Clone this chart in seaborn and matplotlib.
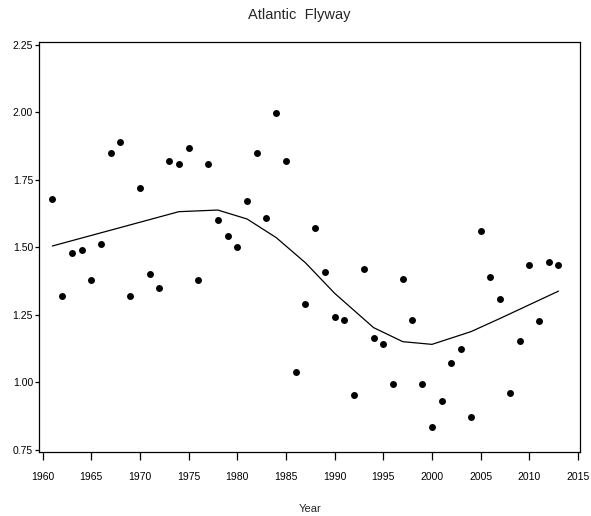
import numpy as np
import pandas as pd
import matplotlib
matplotlib.use("Agg")
import matplotlib.pyplot as plt
import seaborn as sns

# Observed data (one point per year)
years = list(range(1961, 2014))
values = [1.680, 1.320, 1.480, 1.490, 1.380, 1.511, 1.850, 1.889, 1.320, 1.720,
          1.400, 1.351, 1.820, 1.808, 1.869, 1.380, 1.808, 1.600, 1.541, 1.501,
          1.670, 1.849, 1.610, 1.997, 1.820, 1.040, 1.291, 1.570, 1.410, 1.242,
          1.231, 0.954, 1.421, 1.163, 1.142, 0.993, 1.382, 1.231, 0.993, 0.834,
          0.931, 1.073, 1.123, 0.872, 1.561, 1.390, 1.310, 0.962, 1.155, 1.433,
          1.229, 1.446, 1.433]

# Smoothed trend line vertices
trend_years = [1961, 1974, 1978, 1981, 1984, 1987, 1990, 1994, 1997, 2000, 2004, 2007, 2013]
trend_values = [1.505, 1.632, 1.638, 1.605, 1.536, 1.443, 1.330, 1.203, 1.151, 1.141, 1.188, 1.237, 1.338]

x_ticks = list(range(1960, 2020, 5))
y_ticks = [0.75, 1.00, 1.25, 1.50, 1.75, 2.00, 2.25]

sns.set_style("ticks")
plt.rcParams['font.family'] = ['Liberation Sans', 'DejaVu Sans']

df = pd.DataFrame({"Year": years, "Value": values})
tr = pd.DataFrame({"Year": trend_years, "Value": trend_values})

fig = plt.figure(figsize=(5.91, 5.16), dpi=100)
ax = fig.add_axes([0.0665, 0.1234, 0.9814 - 0.0665, 0.9192 - 0.1234])

sns.scatterplot(data=df, x="Year", y="Value", ax=ax, color="black", s=25,
                edgecolor="black", linewidth=0, zorder=3)
sns.lineplot(data=tr, x="Year", y="Value", ax=ax, color="black", linewidth=0.9,
             estimator=None, sort=False, zorder=2)

ax.set_xlim(1959.66, 2015.21)
ax.set_ylim(0.7415, 2.261)
ax.set_xticks(x_ticks)
ax.set_xticklabels([str(t) for t in x_ticks], fontsize=7.5)
ax.set_yticks(y_ticks)
ax.set_yticklabels([f"{t:.2f}" for t in y_ticks], fontsize=7.5)
ax.tick_params(axis='x', length=6, width=0.9, pad=8, colors='black')
ax.tick_params(axis='y', length=3, width=0.9, pad=1.5, colors='black')
for sp in ax.spines.values():
    sp.set_visible(True)
    sp.set_linewidth(0.9)
    sp.set_color("black")

ax.set_xlabel("Year", fontsize=8, labelpad=16)
ax.set_ylabel("")
fig.text(299 / 591, 1 - 15 / 516, "Atlantic  Flyway", ha="center", va="center", fontsize=10.5)

fig.savefig("out.png", dpi=100, facecolor="white")
